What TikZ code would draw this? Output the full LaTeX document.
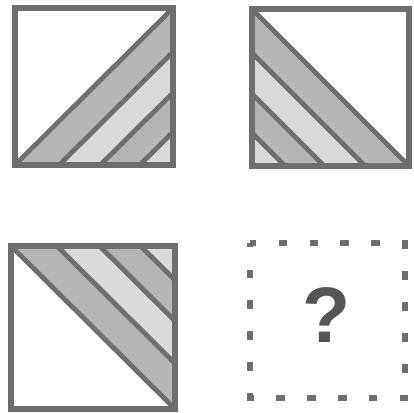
\documentclass[tikz,border=0pt]{standalone}
\usepackage{fontspec}
\setmainfont{Liberation Sans}
\usepackage{xcolor}
\usepackage{tikz}

\definecolor{framegray}{HTML}{6E6E6E}
\definecolor{darkband}{HTML}{B5B5B5}
\definecolor{lightband}{HTML}{DADADA}
\definecolor{markgray}{HTML}{555555}

\tikzset{
  frame/.style={draw=framegray, line width=4.2pt},
  stripe/.style={draw=framegray, line width=3.4pt},
  dotframe/.style={draw=framegray, line width=4.4pt,
    dash pattern=on 6.2pt off 15.77pt, dash phase=3.1pt},
  qmark/.style={text=markgray, inner sep=0pt,
    font=\fontsize{56}{56}\selectfont\bfseries}
}

% bands in a unit square, corner (1,1) striped
\newcommand{\bandsquare}{%
  \fill[darkband] (0,1) -- (1,0) -- (1,.28) -- (.28,1) -- cycle;
  \fill[lightband] (.28,1) -- (1,.28) -- (1,.54) -- (.54,1) -- cycle;
  \fill[darkband] (.54,1) -- (1,.54) -- (1,.79) -- (.79,1) -- cycle;
  \fill[lightband] (.79,1) -- (1,.79) -- (1,1) -- cycle;
  \foreach \a in {0,.28,.54,.79} \draw[stripe] (\a,1) -- (1,\a);
  \draw[frame] (0,0) rectangle (1,1);
}

\begin{document}
\begin{tikzpicture}[x=0.025cm, y=-0.025cm]
  \useasboundingbox (0,0) rectangle (414,413);

  % top left
  \begin{scope}[shift={(15,8)}, xscale=158, yscale=157]
    \bandsquare
  \end{scope}

  % top right
  \begin{scope}[shift={(409,9)}, xscale=-157, yscale=157]
    \bandsquare
  \end{scope}

  % bottom left
  \begin{scope}[shift={(11,409)}, xscale=164, yscale=-163]
    \bandsquare
  \end{scope}

  % missing one
  \draw[dotframe] (250,243) rectangle (405,398);
  \node[qmark] (ask) at (327,315) {?};
\end{tikzpicture}
\end{document}
